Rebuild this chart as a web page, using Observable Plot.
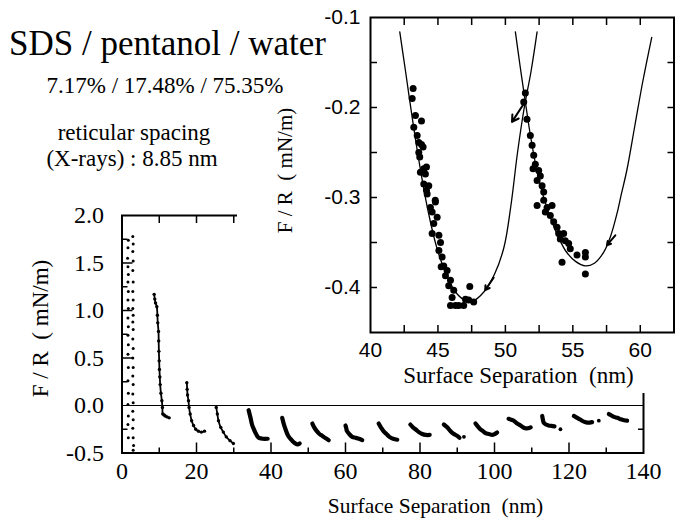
<!DOCTYPE html>
<html><head><meta charset="utf-8">
<script src="https://cdn.jsdelivr.net/npm/d3@7"></script>
<script src="https://cdn.jsdelivr.net/npm/@observablehq/plot@0.6"></script>
<style>
html,body{margin:0;padding:0;background:#fff;}
#wrap{position:relative;width:676px;height:520px;overflow:hidden;}
#wrap svg{position:absolute;top:0;left:0;}
.t{position:absolute;font-family:"Liberation Serif","DejaVu Serif","Times New Roman",Times,serif;line-height:1;white-space:pre;transform:translateX(-50%);color:#000;}
</style></head><body><div id="wrap"></div>
<script>
// ---------- text ----------
const titleLines = ["SDS / pentanol / water", "7.17% / 17.48% / 75.35%", "reticular spacing", "(X-rays) : 8.85 nm"];
const yLabel = "F / R\u00a0 ( mN/m)";
const xLabel = "Surface Separation\u00a0 (nm)";

// ---------- main plot ticks ----------
const mainXLabels = [0, 20, 40, 60, 80, 100, 120, 140];
const mainXMinor = [10, 30, 50, 70, 90, 110, 130];
const mainXMajor = [20, 40, 60, 80, 100, 120];
const mainXTop = [10, 20, 30, 40, 50, 60, 70, 80, 90, 100, 110, 120, 130];
const mainYLabels = [-0.5, 0.0, 0.5, 1.0, 1.5, 2.0];
const mainYMajor = [0.5, 1.0, 1.5];
const mainYMinor = [-0.25, 0.25, 0.75, 1.25, 1.75];

// ---------- main plot data: force curves, one per layer ----------
const layer0a = [[1.7,1.74],[1.6,1.66],[1.5,1.55],[1.6,1.46],[1.7,1.38],[1.6,1.30],[1.7,1.20],[1.6,1.11],[1.7,1.02],[1.6,0.92],[1.7,0.83],[1.6,0.74],[1.7,0.64],[1.6,0.54],[1.7,0.40],[1.6,0.26],[1.7,0.13],[1.6,0.01],[1.7,-0.11],[1.6,-0.20],[1.7,-0.34]];
const layer0b = [[2.9,1.78],[3.0,1.70],[2.9,1.62],[3.0,1.52],[2.9,1.42],[3.0,1.30],[2.9,1.20],[3.0,1.11],[2.9,1.02],[3.0,0.95],[2.9,0.88],[3.0,0.80],[2.9,0.70],[3.0,0.60],[2.9,0.50],[3.0,0.40],[2.9,0.31],[3.0,0.22],[2.9,0.12],[3.0,0.03],[2.9,-0.06],[3.0,-0.15],[2.9,-0.24],[3.0,-0.34],[3.1,-0.42],[3.0,-0.47]];
const layer1 = [[8.64,1.17],[8.8,1.12],[9.0,1.08],[9.35,1.04],[9.5,0.95],[9.6,0.87],[9.8,0.78],[9.85,0.68],[9.9,0.57],[9.98,0.47],[10.05,0.38],[10.15,0.30],[10.25,0.22],[10.45,0.13],[10.7,0.05],[10.85,-0.02],[10.95,-0.09],[11.3,-0.10],[11.6,-0.11],[12.1,-0.12],[12.67,-0.13]];
const layer2 = [[17.4,0.24],[17.5,0.17],[17.6,0.11],[17.85,0.05],[18.0,-0.02],[18.3,-0.09],[18.7,-0.16],[19.2,-0.21],[19.8,-0.25],[20.5,-0.27],[21.3,-0.28],[22.15,-0.27]];
const layer3 = [[25.3,-0.02],[25.6,-0.09],[25.9,-0.16],[26.5,-0.23],[27.2,-0.28],[28.0,-0.33],[29.0,-0.37],[29.9,-0.40]];
const layer4 = [[34.0,-0.05],[34.5,-0.13],[34.9,-0.2],[35.4,-0.25],[36.0,-0.30],[36.7,-0.34],[37.8,-0.35],[39.1,-0.35]];
const layer5 = [[43.0,-0.13],[43.4,-0.19],[43.9,-0.25],[44.5,-0.31],[45.3,-0.355],[46.2,-0.39],[47.1,-0.41],[47.7,-0.40]];
const layer6 = [[51.1,-0.19],[51.6,-0.23],[52.3,-0.27],[53.0,-0.30],[53.8,-0.32],[54.7,-0.345],[55.5,-0.365]];
const layer7 = [[60.0,-0.21],[60.2,-0.24],[60.4,-0.27],[61.0,-0.30],[61.8,-0.33],[62.7,-0.34],[63.6,-0.35],[64.5,-0.365]];
const layer8 = [[68.9,-0.19],[69.5,-0.23],[70.2,-0.27],[71.0,-0.30],[71.8,-0.33],[72.8,-0.35],[73.9,-0.36]];
const layer9 = [[77.4,-0.20],[78.1,-0.23],[78.8,-0.25],[79.7,-0.28],[80.6,-0.30],[81.6,-0.31],[82.6,-0.31]];
const layer10 = [[86.4,-0.20],[87.3,-0.23],[88.2,-0.27],[89.1,-0.30],[90.0,-0.32],[90.6,-0.34]];
const layer11 = [[94.9,-0.19],[95.5,-0.22],[96.2,-0.25],[96.9,-0.27],[97.6,-0.29],[98.5,-0.30],[99.4,-0.31],[100.1,-0.30],[100.7,-0.285]];
const layer12 = [[103.8,-0.14],[104.5,-0.15],[105.2,-0.16],[106.1,-0.19],[107.0,-0.21],[107.7,-0.23],[108.3,-0.24],[109.0,-0.24],[109.7,-0.23]];
const layer13 = [[112.8,-0.11],[113.0,-0.15],[113.2,-0.18],[113.8,-0.20],[114.5,-0.21],[115.3,-0.215],[116.1,-0.22]];
const layer14 = [[121.3,-0.11],[122.2,-0.13],[123.1,-0.15],[124.0,-0.17],[124.9,-0.18],[125.6,-0.18],[126.2,-0.175]];
const layer15 = [[130.7,-0.09],[131.4,-0.105],[132.1,-0.12],[133.0,-0.13],[133.9,-0.145],[134.8,-0.155],[135.6,-0.16]];
const strayDots = [[91.8,-0.33],[117.7,-0.25],[128.0,-0.16]];

// ---------- inset ticks ----------
const inXLabels = [40, 45, 50, 55, 60];
const inXTicks = [42.5, 45, 47.5, 50, 52.5, 55, 57.5, 60];
const inYLabels = [-0.1, -0.2, -0.3, -0.4];
const inYTicks = [-0.4, -0.35, -0.3, -0.25, -0.2, -0.15];

// ---------- inset data ----------
const fitLeft = [[42.17,-0.116],[42.6,-0.16],[43.09,-0.211],[43.6,-0.26],[44.2,-0.31],[44.9,-0.355],[45.6,-0.385],[46.3,-0.405],[47.1,-0.415],[47.6,-0.415],[48.4,-0.405],[49.2,-0.385],[49.9,-0.355],[50.4,-0.31],[50.9,-0.25],[51.4,-0.2],[51.9,-0.16],[52.35,-0.116]];
const fitRight = [[50.74,-0.116],[51.1,-0.155],[51.48,-0.194],[51.9,-0.235],[52.4,-0.275],[52.84,-0.3],[53.4,-0.325],[53.9,-0.343],[54.5,-0.36],[55.2,-0.371],[55.93,-0.376],[56.6,-0.373],[57.28,-0.361],[57.8,-0.343],[58.27,-0.318],[58.6,-0.296],[59.0,-0.27],[59.6,-0.22],[60.2,-0.17],[60.85,-0.122]];
const dotsLeft = [[43.16,-0.179],[43.09,-0.190],[43.33,-0.209],[43.78,-0.215],[43.21,-0.222],[43.46,-0.231],[43.58,-0.239],[43.78,-0.241],[43.9,-0.244],[43.58,-0.250],[43.65,-0.255],[44.15,-0.266],[43.95,-0.268],[43.7,-0.272],[44.07,-0.274],[43.95,-0.285],[44.32,-0.287],[44.15,-0.292],[44.8,-0.303],[44.2,-0.296],[44.81,-0.305],[44.44,-0.311],[44.57,-0.316],[44.94,-0.322],[44.69,-0.329],[44.57,-0.340],[45.07,-0.342],[45.19,-0.350],[45.07,-0.359],[45.31,-0.366],[45.43,-0.376],[45.24,-0.377],[45.68,-0.381],[45.56,-0.387],[45.93,-0.392],[45.8,-0.398],[46.17,-0.403],[46.05,-0.411],[45.93,-0.420],[46.3,-0.420],[46.54,-0.420],[46.91,-0.420],[47.04,-0.413],[47.28,-0.414],[47.36,-0.399],[47.65,-0.416]];
const dotsRight = [[51.48,-0.184],[51.36,-0.194],[51.6,-0.213],[51.85,-0.231],[51.98,-0.242],[52.1,-0.253],[52.22,-0.263],[52.05,-0.268],[52.47,-0.27],[52.59,-0.276],[52.35,-0.281],[52.72,-0.287],[52.84,-0.294],[52.35,-0.309],[52.84,-0.303],[53.09,-0.311],[53.46,-0.309],[52.96,-0.316],[53.33,-0.32],[53.58,-0.327],[53.83,-0.333],[53.95,-0.34],[54.32,-0.34],[54.07,-0.346],[54.44,-0.348],[54.69,-0.351],[54.81,-0.357],[54.2,-0.372],[55.31,-0.364],[55.93,-0.361],[55.93,-0.366],[55.93,-0.385]];
const arrowsFrom = [[49.13,-0.389],[58.15,-0.342],[51.4,-0.195]];
const arrowsTo = [[48.5,-0.403],[57.53,-0.353],[50.49,-0.216]];

// ---------- build ----------
const serif = "'Liberation Serif', 'DejaVu Serif', 'Times New Roman', Times, serif";
const sans = "'Liberation Sans', Arial, sans-serif";
const X = d => d[0], Y = d => d[1];
const thinLayers = [layer1, layer2, layer3];
const thickLayers = [layer4, layer5, layer6, layer7, layer8, layer9, layer10, layer11, layer12, layer13, layer14, layer15];
const fmt1 = d => d.toFixed(1);

const main = Plot.plot({
  width: 676, height: 520,
  marginLeft: 121.5, marginRight: 33, marginTop: 215, marginBottom: 67.5,
  x: {domain: [0, 140]},
  y: {domain: [-0.5, 2.0]},
  style: {fontFamily: serif, color: "black", background: "white"},
  marks: [
    Plot.ruleY([0], {strokeWidth: 1.2}),
    Plot.dot(layer0a.concat(layer0b), {x: X, y: Y, r: 1.5, fill: "black", stroke: null}),
    ...thinLayers.map(L => Plot.line(L, {x: X, y: Y, strokeWidth: 1.8, curve: "catmull-rom"})),
    ...thinLayers.map(L => Plot.dot(L, {x: X, y: Y, r: 1.7, fill: "black", stroke: null})),
    ...thickLayers.map(L => Plot.line(L, {x: X, y: Y, strokeWidth: 4.2, curve: "catmull-rom", strokeLinecap: "round", strokeLinejoin: "round"})),
    Plot.dot(strayDots, {x: X, y: Y, r: 1.9, fill: "black", stroke: null}),
    Plot.frame({strokeWidth: 2}),
    Plot.axisX({anchor: "bottom", ticks: mainXMajor, tickSize: -10, fill: "none", label: null, strokeWidth: 1.5}),
    Plot.axisX({anchor: "bottom", ticks: mainXMinor, tickSize: -5, fill: "none", label: null, strokeWidth: 1.5}),
    Plot.axisX({anchor: "top", ticks: mainXTop, tickSize: -7, fill: "none", label: null, strokeWidth: 1.5}),
    Plot.axisY({anchor: "left", ticks: mainYMajor, tickSize: -11, fill: "none", label: null, strokeWidth: 1.5}),
    Plot.axisY({anchor: "left", ticks: mainYMinor, tickSize: -6, fill: "none", label: null, strokeWidth: 1.5}),
    Plot.axisY({anchor: "right", ticks: mainYMinor, tickSize: -6, fill: "none", label: null, strokeWidth: 1.5}),
    Plot.axisX({anchor: "bottom", ticks: mainXLabels, tickSize: 0, tickPadding: 9, fontSize: 24, fontFamily: serif, label: null, tickFormat: d => String(d)}),
    Plot.axisY({anchor: "left", ticks: mainYLabels, tickSize: 0, tickPadding: 18, fontSize: 24, fontFamily: serif, label: null, tickFormat: fmt1}),
    Plot.text([xLabel], {text: d => d, frameAnchor: "bottom", textAnchor: "middle", dx: 52.75, dy: 59.5, lineAnchor: "bottom", fontSize: 21.5, fontFamily: serif}),
    Plot.text([yLabel], {text: d => d, frameAnchor: "left", textAnchor: "middle", rotate: -90, dx: -81.5, dy: -5.75, fontSize: 23, fontFamily: serif})
  ]
});

const inset = Plot.plot({
  width: 439, height: 393,
  marginLeft: 133, marginRight: 2.5, marginTop: 17, marginBottom: 61,
  x: {domain: [40, 62.5]},
  y: {domain: [-0.45, -0.1]},
  style: {fontFamily: sans, color: "black", background: "white"},
  marks: [
    Plot.line(fitLeft, {x: X, y: Y, strokeWidth: 1.3, curve: "catmull-rom"}),
    Plot.line(fitRight, {x: X, y: Y, strokeWidth: 1.3, curve: "catmull-rom"}),
    Plot.dot(dotsLeft.concat(dotsRight), {x: X, y: Y, r: 3.5, fill: "black", stroke: null}),
    Plot.arrow(arrowsFrom, {x1: X, y1: Y, x2: (d, i) => arrowsTo[i][0], y2: (d, i) => arrowsTo[i][1], strokeWidth: 2, headLength: 8}),
    Plot.frame({strokeWidth: 2}),
    Plot.axisX({anchor: "bottom", ticks: inXTicks, tickSize: -7, fill: "none", label: null, strokeWidth: 1.5}),
    Plot.axisX({anchor: "top", ticks: inXTicks, tickSize: -7, fill: "none", label: null, strokeWidth: 1.5}),
    Plot.axisY({anchor: "left", ticks: inYTicks, tickSize: -7, fill: "none", label: null, strokeWidth: 1.5}),
    Plot.axisY({anchor: "right", ticks: inYTicks, tickSize: -7, fill: "none", label: null, strokeWidth: 1.5}),
    Plot.axisX({anchor: "bottom", ticks: inXLabels, tickSize: 0, tickPadding: 10, fontSize: 21, fontFamily: sans, label: null, tickFormat: d => String(d)}),
    Plot.axisY({anchor: "left", ticks: inYLabels, tickSize: 0, tickPadding: 10, fontSize: 21, fontFamily: sans, label: null, tickFormat: fmt1}),
    Plot.text([xLabel], {text: d => d, frameAnchor: "bottom", textAnchor: "middle", dx: -3.75, dy: 50, lineAnchor: "bottom", fontSize: 23, fontFamily: serif}),
    Plot.text([yLabel], {text: d => d, frameAnchor: "left", textAnchor: "middle", rotate: -90, dx: -85, dy: -4.5, fontSize: 21, fontFamily: serif})
  ]
});

const wrap = document.getElementById("wrap");
wrap.appendChild(main);
inset.style.left = "237px";
inset.style.top = "0px";
wrap.appendChild(inset);

const textPos = [
  {cx: 167.5, top: 25.7, size: 35},
  {cx: 165, top: 73.7, size: 23},
  {cx: 134, top: 120.7, size: 23},
  {cx: 132, top: 146.7, size: 23}
];
titleLines.forEach((s, i) => {
  const d = document.createElement("div");
  d.className = "t";
  d.textContent = s;
  d.style.left = textPos[i].cx + "px";
  d.style.top = textPos[i].top + "px";
  d.style.fontSize = textPos[i].size + "px";
  wrap.appendChild(d);
});
</script></body></html>
